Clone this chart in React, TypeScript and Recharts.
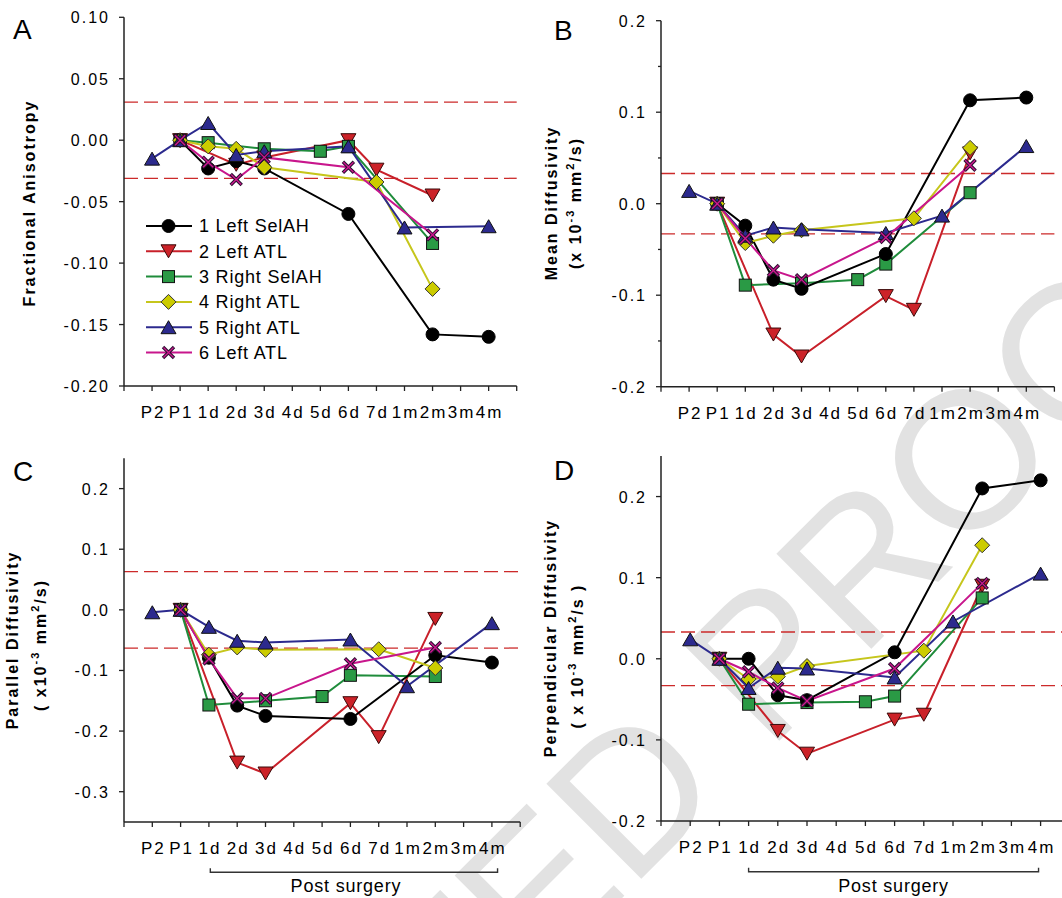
import React from 'react';
import { LineChart, Line, XAxis, YAxis, ReferenceLine, Legend } from 'recharts';

const FONT = '"Liberation Sans", Arial, Helvetica, sans-serif';

const timepoints = ['P2', 'P1', '1d', '2d', '3d', '4d', '5d', '6d', '7d', '1m', '2m', '3m', '4m'];
const patients = ['1 Left SelAH', '2 Left ATL', '3 Right SelAH', '4 Right ATL', '5 Right ATL', '6 Left ATL'];

// A - fractional anisotropy
const fa1 = [null, 0, -0.023, -0.017, -0.023, null, null, -0.06, null, null, -0.158, null, -0.16];
const fa2 = [null, 0, null, -0.02, -0.014, null, null, 0.0, -0.024, null, -0.045, null, null];
const fa3 = [null, 0, -0.002, null, -0.007, null, -0.009, -0.005, null, null, -0.084, null, null];
const fa4 = [null, 0, -0.005, -0.007, -0.022, null, null, null, -0.034, null, -0.121, null, null];
const fa5 = [-0.015, 0, 0.014, -0.012, -0.009, null, null, -0.005, null, -0.071, null, null, -0.07];
const fa6 = [null, 0, -0.018, -0.032, -0.014, null, null, -0.022, null, null, -0.077, null, null];

// B - mean diffusivity
const md1 = [null, 0, -0.024, -0.083, -0.093, null, null, -0.055, null, null, 0.113, null, 0.116];
const md2 = [null, 0, null, -0.143, -0.167, null, null, -0.101, -0.116, null, 0.055, null, null];
const md3 = [null, 0, -0.089, null, -0.087, null, -0.083, -0.066, null, null, 0.012, null, null];
const md4 = [null, 0, -0.043, -0.035, -0.029, null, null, null, -0.016, null, 0.061, null, null];
const md5 = [0.014, 0, -0.035, -0.026, -0.028, null, null, -0.032, null, -0.013, null, null, 0.063];
const md6 = [null, 0, -0.038, -0.073, -0.083, null, null, -0.037, null, null, 0.042, null, null];

// C - parallel diffusivity
const ad1 = [null, 0, -0.079, -0.158, -0.175, null, null, -0.18, null, null, -0.075, null, -0.087];
const ad2 = [null, 0, null, -0.252, -0.27, null, null, -0.154, -0.21, null, -0.015, null, null];
const ad3 = [null, 0, -0.157, null, -0.15, null, -0.143, -0.108, null, null, -0.11, null, null];
const ad4 = [null, 0, -0.074, -0.062, -0.066, null, null, null, -0.065, null, -0.096, null, null];
const ad5 = [-0.004, 0, -0.028, -0.051, -0.054, null, null, -0.049, null, -0.126, null, null, -0.022];
const ad6 = [null, 0, -0.081, -0.146, -0.146, null, null, -0.089, null, null, -0.062, null, null];

// D - perpendicular diffusivity
const rd1 = [null, 0, 0.0, -0.045, -0.051, null, null, 0.008, null, null, 0.21, null, 0.22];
const rd2 = [null, 0, null, -0.089, -0.117, null, null, -0.075, -0.069, null, 0.09, null, null];
const rd3 = [null, 0, -0.056, null, -0.054, null, -0.053, -0.046, null, null, 0.075, null, null];
const rd4 = [null, 0, -0.025, -0.022, -0.009, null, null, null, 0.01, null, 0.14, null, null];
const rd5 = [0.024, 0, -0.036, -0.011, -0.012, null, null, -0.023, null, 0.046, null, null, 0.105];
const rd6 = [null, 0, -0.016, -0.036, -0.052, null, null, -0.012, null, null, 0.093, null, null];

// normal range (dashed lines)
const faRange = [-0.031, 0.031];
const mdRange = [-0.033, 0.033];
const adRange = [-0.063, 0.063];
const rdRange = [-0.033, 0.033];

const faTicks = [-0.2, -0.15, -0.1, -0.05, 0, 0.05, 0.1];
const mdTicks = [-0.2, -0.15, -0.1, -0.05, 0, 0.05, 0.1, 0.15, 0.2];
const adTicks = [-0.3, -0.2, -0.1, 0, 0.1, 0.2];
const rdTicks = [-0.2, -0.1, 0, 0.1, 0.2];
const xTicks = [0, 1, 2, 3, 4, 5, 6, 7, 8, 9, 10, 11, 12, 13, 14];

const lineColors = ['#000000', '#c8202a', '#1f8c3b', '#c6c61c', '#2c2a8e', '#c8168c'];
const markerKinds = ['circle', 'down', 'square', 'diamond', 'up', 'cross'];

function buildRows(series: (number | null)[][]) {
  return timepoints.map((t, i) => {
    const row: any = { x: i + 1, label: t };
    series.forEach((s, k) => {
      row['p' + (k + 1)] = s[i];
    });
    return row;
  });
}

function markerShape(kind: string, cx: number, cy: number) {
  switch (kind) {
    case 'circle':
      return <circle cx={cx} cy={cy} r={6.5} fill="#000" stroke="#000" />;
    case 'down':
      return <polygon points={`${cx - 7.5},${cy - 6.5} ${cx + 7.5},${cy - 6.5} ${cx},${cy + 6.5}`} fill="#cc2228" stroke="#3a0a0a" strokeWidth={1} />;
    case 'square':
      return <rect x={cx - 6} y={cy - 6} width={12} height={12} fill="#2a9a45" stroke="#111" strokeWidth={1} />;
    case 'diamond':
      return <polygon points={`${cx},${cy - 7.5} ${cx + 7.5},${cy} ${cx},${cy + 7.5} ${cx - 7.5},${cy}`} fill="#cccc00" stroke="#333" strokeWidth={1} />;
    case 'up':
      return <polygon points={`${cx - 7.5},${cy + 6.5} ${cx + 7.5},${cy + 6.5} ${cx},${cy - 6.5}`} fill="#2c2a8e" stroke="#111" strokeWidth={1} />;
    default:
      return (
        <g>
          <line x1={cx - 5.5} y1={cy - 5.5} x2={cx + 5.5} y2={cy + 5.5} stroke="#2a1030" strokeWidth={3.4} />
          <line x1={cx - 5.5} y1={cy + 5.5} x2={cx + 5.5} y2={cy - 5.5} stroke="#2a1030" strokeWidth={3.4} />
          <line x1={cx - 5} y1={cy - 5} x2={cx + 5} y2={cy + 5} stroke="#d01890" strokeWidth={1.3} />
          <line x1={cx - 5} y1={cy + 5} x2={cx + 5} y2={cy - 5} stroke="#d01890" strokeWidth={1.3} />
        </g>
      );
  }
}

const dotRenderer = (kind: string, key: string) => (props: any) => {
  const { cx, cy, index, payload } = props;
  if (cx == null || cy == null || payload == null || payload[key] == null) {
    return <g key={`n${key}${index}`} />;
  }
  return <g key={`m${key}${index}`}>{markerShape(kind, cx, cy)}</g>;
};

const makeYTick = (axisX: number, major: number, digits: number) => (props: any) => {
  const { y, payload } = props;
  const v = payload.value;
  const isMajor = Math.abs(v / major - Math.round(v / major)) < 1e-6;
  return (
    <g>
      <line x1={axisX - (isMajor ? 5 : 3)} x2={axisX} y1={y} y2={y} stroke="#222" strokeWidth={1.3} />
      {isMajor && (
        <text x={axisX - 14} y={y + 6} textAnchor="end" fontSize={16} letterSpacing={2} fill="#000" fontFamily={FONT}>
          {v.toFixed(digits)}
        </text>
      )}
    </g>
  );
};

const makeXTick = (axisY: number) => (props: any) => {
  const { x, payload } = props;
  const label = timepoints[payload.value - 1] ?? '';
  return (
    <g>
      <line x1={x} x2={x} y1={axisY} y2={axisY + 5} stroke="#222" strokeWidth={1.3} />
      <text x={x + 1} y={axisY + 32} textAnchor="middle" fontSize={17} letterSpacing={2} fill="#000" fontFamily={FONT}>
        {label}
      </text>
    </g>
  );
};

const legendRows = [226, 251.3, 276.6, 301.9, 327.2, 352.5];

const renderLegend = () => (
  <svg width={200} height={160} style={{ overflow: 'visible' }}>
    {patients.map((name, k) => {
      const y = legendRows[k] - 210;
      return (
        <g key={name}>
          <line x1={6} x2={52} y1={y} y2={y} stroke={lineColors[k]} strokeWidth={2} />
          {markerShape(markerKinds[k], 28.5, y)}
          <text x={59} y={y + 6.4} fontSize={18} letterSpacing={0.8} fill="#000" fontFamily={FONT}>
            {name}
          </text>
        </g>
      );
    })}
  </svg>
);

type PanelProps = {
  rows: any[];
  domain: [number, number];
  yTicks: number[];
  major: number;
  digits: number;
  range: number[];
  box: { left: number; top: number; width: number; height: number };
  plot: { left: number; right: number; top: number; bottom: number };
  legend?: boolean;
};

function Panel({ rows, domain, yTicks, major, digits, range, box, plot, legend }: PanelProps) {
  const yw = plot.left - box.left;
  const xh = box.top + box.height - plot.bottom;
  const margin = { top: plot.top - box.top, right: box.left + box.width - plot.right, bottom: 0, left: 0 };
  const axisY = plot.bottom - box.top;
  const order = [1, 2, 0, 3, 4, 5];
  return (
    <div style={{ position: 'absolute', left: box.left, top: box.top }}>
      <LineChart width={box.width} height={box.height} data={rows} margin={margin}>
        <XAxis
          type="number"
          dataKey="x"
          domain={[0, 14]}
          ticks={xTicks}
          interval={0}
          height={xh}
          allowDataOverflow
          tickLine={false}
          axisLine={{ stroke: '#222', strokeWidth: 1.5 }}
          tick={makeXTick(axisY)}
        />
        <YAxis
          type="number"
          domain={domain}
          ticks={yTicks}
          interval={0}
          width={yw}
          allowDataOverflow
          tickLine={false}
          axisLine={{ stroke: '#222', strokeWidth: 1.5 }}
          tick={makeYTick(yw, major, digits)}
        />
        {range.map((r) => (
          <ReferenceLine key={r} y={r} stroke="#cc2a2a" strokeWidth={1.3} strokeDasharray="14 6" />
        ))}
        {order.map((k) => (
          <Line
            key={k}
            type="linear"
            dataKey={'p' + (k + 1)}
            name={patients[k]}
            stroke={lineColors[k]}
            strokeWidth={2}
            connectNulls
            isAnimationActive={false}
            dot={dotRenderer(markerKinds[k], 'p' + (k + 1))}
            activeDot={false}
          />
        ))}
        {legend && (
          <Legend
            layout="vertical"
            align="center"
            verticalAlign="middle"
            content={renderLegend}
            wrapperStyle={{ left: 140, top: 210, width: 200, height: 160 }}
          />
        )}
      </LineChart>
    </div>
  );
}

function Sup({ children }: { children: React.ReactNode }) {
  return (
    <tspan dy={-7} fontSize={11}>
      {children}
    </tspan>
  );
}

function Title({ x, y, children }: { x: number; y: number; children: React.ReactNode }) {
  return (
    <text
      transform={`translate(${x},${y}) rotate(-90)`}
      textAnchor="middle"
      fontSize={16}
      fontWeight="bold"
      letterSpacing={2}
      fill="#000"
      fontFamily={FONT}
    >
      {children}
    </text>
  );
}

function Bracket({ x1, x2, y, tx }: { x1: number; x2: number; y: number; tx: number }) {
  return (
    <g>
      <polyline points={`${x1},${y - 4} ${x1},${y} ${x2},${y} ${x2},${y - 4}`} fill="none" stroke="#333" strokeWidth={1.4} />
      <text x={tx} y={892} textAnchor="middle" fontSize={18} letterSpacing={0.8} fill="#000" fontFamily={FONT}>
        Post surgery
      </text>
    </g>
  );
}

export default function App() {
  const aPlot = { left: 124, right: 124 + 14 * 28.05, top: 17.3, bottom: 386 };
  const bPlot = { left: 661, right: 661 + 14 * 28.1, top: 20.7, bottom: 386.7 };
  const cPlot = { left: 124, right: 124 + 14 * 28.3, top: 458.3, bottom: 822 };
  const dPlot = { left: 661, right: 661 + 14 * 29.2, top: 456, bottom: 821 };
  const cx1 = cPlot.left + 3.05 * 28.3;
  const cx2 = cPlot.left + 13.2 * 28.3;
  const dx1 = dPlot.left + 3.0 * 29.2;
  const dx2 = dPlot.left + 12.93 * 29.2;

  return (
    <div
      style={{
        position: 'absolute',
        left: 0,
        top: 0,
        width: 1062,
        height: 898,
        overflow: 'hidden',
        background: '#fff',
        fontFamily: FONT,
      }}
    >
      <svg width={1062} height={898} style={{ position: 'absolute', left: 0, top: 0 }}>
        <g transform="translate(768,752) rotate(-45)">
          <text x={0} y={0} textAnchor="end" fontSize={195} fill="#e2e2e2" fontFamily={FONT}>
            UNCORRECTED{'\u00a0'}
          </text>
          <text x={0} y={0} textAnchor="start" fontSize={195} fill="#e2e2e2" fontFamily={FONT}>
            PROOF
          </text>
        </g>
      </svg>

      <Panel
        rows={buildRows([fa1, fa2, fa3, fa4, fa5, fa6])}
        domain={[-0.2, 0.1]}
        yTicks={faTicks}
        major={0.05}
        digits={2}
        range={faRange}
        box={{ left: 0, top: 0, width: 530, height: 440 }}
        plot={aPlot}
        legend
      />
      <Panel
        rows={buildRows([md1, md2, md3, md4, md5, md6])}
        domain={[-0.2, 0.2]}
        yTicks={mdTicks}
        major={0.1}
        digits={1}
        range={mdRange}
        box={{ left: 530, top: 0, width: 532, height: 440 }}
        plot={bPlot}
      />
      <Panel
        rows={buildRows([ad1, ad2, ad3, ad4, ad5, ad6])}
        domain={[-0.35, 0.25]}
        yTicks={adTicks}
        major={0.1}
        digits={1}
        range={adRange}
        box={{ left: 0, top: 440, width: 530, height: 458 }}
        plot={cPlot}
      />
      <Panel
        rows={buildRows([rd1, rd2, rd3, rd4, rd5, rd6])}
        domain={[-0.2, 0.25]}
        yTicks={rdTicks}
        major={0.1}
        digits={1}
        range={rdRange}
        box={{ left: 530, top: 440, width: 545, height: 458 }}
        plot={dPlot}
      />

      <svg width={1062} height={898} style={{ position: 'absolute', left: 0, top: 0, pointerEvents: 'none' }}>
        <g fontFamily={FONT} fontSize={28} fill="#000">
          <text x={13} y={39}>A</text>
          <text x={554} y={40}>B</text>
          <text x={13} y={481}>C</text>
          <text x={554} y={480}>D</text>
        </g>

        <Title x={34.5} y={203}>Fractional Anisotropy</Title>

        <Title x={556.5} y={203}>Mean Diffusivity</Title>
        <Title x={581} y={203}>
          (x 10<Sup>-3</Sup>
          <tspan dy={7}> mm</tspan>
          <Sup>2</Sup>
          <tspan dy={7}>/s)</tspan>
        </Title>

        <Title x={17.5} y={640}>Parallel Diffusivity</Title>
        <Title x={46} y={645}>
          ( x10<Sup>-3</Sup>
          <tspan dy={7}> mm</tspan>
          <Sup>2</Sup>
          <tspan dy={7}>/s)</tspan>
        </Title>

        <Title x={556} y={638}>Perpendicular Diffusivity</Title>
        <Title x={582.5} y={656}>
          ( x 10<Sup>-3</Sup>
          <tspan dy={7}> mm</tspan>
          <Sup>2</Sup>
          <tspan dy={7}>/s )</tspan>
        </Title>

        <Bracket x1={cx1} x2={cx2} y={872.3} tx={(cx1 + cx2) / 2 - 8} />
        <Bracket x1={dx1} x2={dx2} y={871.7} tx={(dx1 + dx2) / 2} />
      </svg>
    </div>
  );
}
